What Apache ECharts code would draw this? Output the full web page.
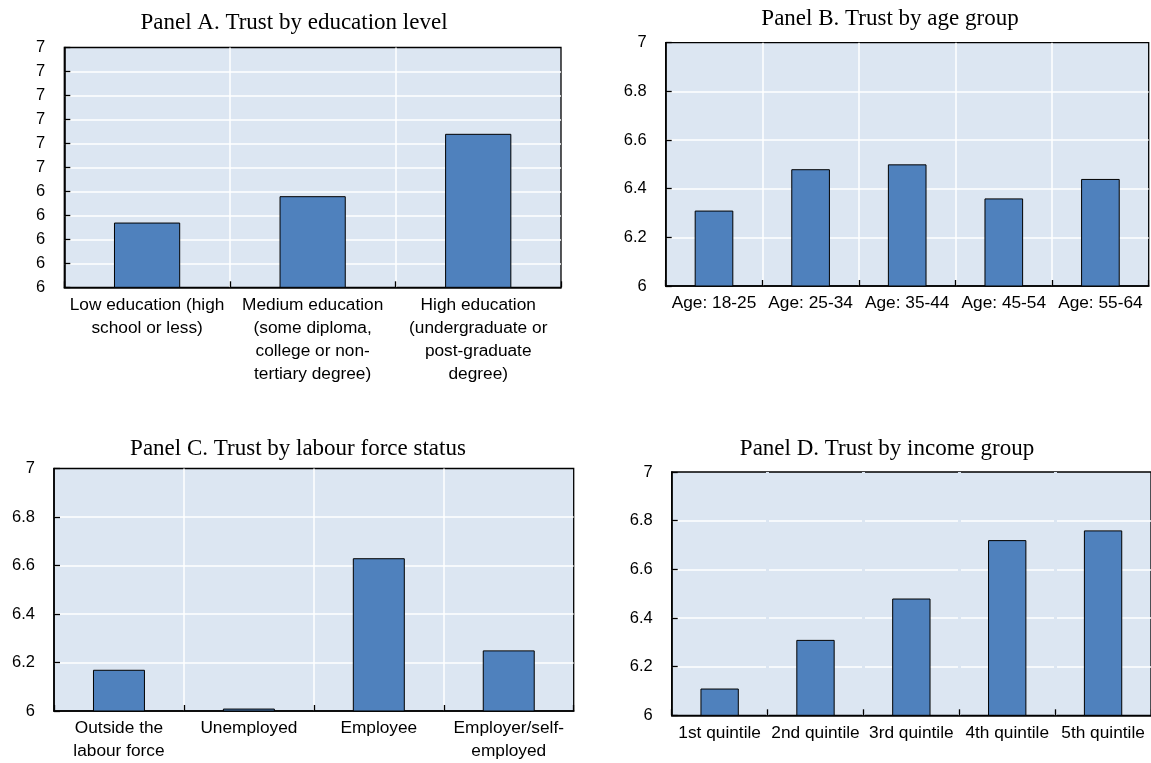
<!DOCTYPE html>
<html>
<head>
<meta charset="utf-8">
<script src="https://cdn.jsdelivr.net/npm/echarts@6/dist/echarts.min.js"></script>
<style>
  html, body { margin: 0; padding: 0; background: #fff; }
  #chart { width: 1151px; height: 763px; }
</style>
</head>
<body>
<div id="chart"></div>
<script>
// Panel titles
const titleA = 'Panel A. Trust by education level';
const titleB = 'Panel B. Trust by age group';
const titleC = 'Panel C. Trust by labour force status';
const titleD = 'Panel D. Trust by income group';

// Categories
const educationLevels = [
  'Low education (high\nschool or less)',
  'Medium education\n(some diploma,\ncollege or non-\ntertiary degree)',
  'High education\n(undergraduate or\npost-graduate\ndegree)'
];
const ageGroups = ['Age: 18-25', 'Age: 25-34', 'Age: 35-44', 'Age: 45-54', 'Age: 55-64'];
const labourStatus = ['Outside the\nlabour force', 'Unemployed', 'Employee', 'Employer/self-\nemployed'];
const incomeGroups = ['1st quintile', '2nd quintile', '3rd quintile', '4th quintile', '5th quintile'];

// Mean trust scores
const trustByEducation = [6.27, 6.38, 6.64];
const trustByAge = [6.31, 6.48, 6.50, 6.36, 6.44];
const trustByLabour = [6.17, 6.01, 6.63, 6.25];
const trustByIncome = [6.11, 6.31, 6.48, 6.72, 6.76];

// Value axis range and steps
const yMin = 6;
const yMax = 7;
const yStepA = 0.1;   // panel A labels are rounded to whole numbers
const yStepOther = 0.2;

const SANS = '"Liberation Sans", Arial, sans-serif';
const SERIF = '"Liberation Serif", "Times New Roman", serif';
const PLOT_BG = '#dce6f2';
const BAR = '#4f81bd';

const chart = echarts.init(document.getElementById('chart'), null, { renderer: 'canvas' });

// plot rectangles: left, top, right, bottom edges in px; title centre x and top
const panels = [
  { title: titleA, cats: educationLevels, vals: trustByEducation, box: [64.3, 47.5, 561, 287.3], step: yStepA, round: true, vgrid: true, tx: 294, ty: 11.5 },
  { title: titleB, cats: ageGroups, vals: trustByAge, box: [665.7, 42.7, 1148.7, 286], step: yStepOther, round: false, vgrid: true, tx: 890, ty: 7 },
  { title: titleC, cats: labourStatus, vals: trustByLabour, box: [54, 468.5, 573.7, 712.7], step: yStepOther, round: false, vgrid: true, tx: 298, ty: 437.5 },
  { title: titleD, cats: incomeGroups, vals: trustByIncome, box: [671.7, 472, 1152.5, 715.3], step: yStepOther, round: false, vgrid: false, tx: 887, ty: 437.5 }
];

const W = 1151, H = 763;

const xAxes = panels.map((p, i) => ({
  type: 'category',
  gridIndex: i,
  data: p.cats,
  boundaryGap: true,
  z: 3,
  axisLine: { show: true, lineStyle: { color: '#000', width: 1.6 } },
  axisTick: { show: true, inside: true, length: 6, interval: 0, lineStyle: { color: '#000', width: 1.3 } },
  axisLabel: { interval: 0, margin: 6, color: '#000', fontFamily: SANS, fontSize: 17.3, lineHeight: 23, align: 'center' },
  splitLine: { show: p.vgrid, interval: 0, showMinLine: false, showMaxLine: false, lineStyle: { color: '#ffffff', width: 1.5 } }
}));

// Panel D: horizontal gridlines are broken at the category boundaries
xAxes.push({
  type: 'category',
  gridIndex: 3,
  data: incomeGroups,
  boundaryGap: true,
  position: 'bottom',
  z: 1,
  axisLine: { show: false },
  axisTick: { show: false },
  axisLabel: { show: false },
  splitLine: { show: true, interval: 0, showMinLine: false, showMaxLine: false, lineStyle: { color: PLOT_BG, width: 3 } }
});

const option = {
  backgroundColor: '#ffffff',
  animation: false,
  title: panels.map(p => ({
    text: p.title,
    left: p.tx,
    top: p.ty,
    textAlign: 'center',
    padding: 0,
    textStyle: { fontFamily: SERIF, fontSize: 23, fontWeight: 'normal', color: '#000' }
  })),
  grid: panels.map(p => ({
    left: p.box[0],
    top: p.box[1],
    right: W - p.box[2],
    bottom: H - p.box[3],
    show: true,
    backgroundColor: PLOT_BG,
    borderColor: '#000',
    borderWidth: 1.3,
    containLabel: false
  })),
  xAxis: xAxes,
  yAxis: panels.map((p, i) => ({
    type: 'value',
    gridIndex: i,
    min: yMin,
    max: yMax,
    interval: p.step,
    axisLine: { show: true, lineStyle: { color: '#000', width: 1.6 } },
    axisTick: { show: true, inside: true, length: 6, lineStyle: { color: '#000', width: 1.3 } },
    axisLabel: {
      margin: 19,
      color: '#000',
      fontFamily: SANS,
      fontSize: 16.5,
      formatter: v => p.round ? String(Math.round(v)) : String(Math.round(v * 10) / 10)
    },
    splitLine: { show: true, showMinLine: false, showMaxLine: false, lineStyle: { color: '#ffffff', width: 1.5 } }
  })),
  series: panels.map((p, i) => ({
    type: 'bar',
    xAxisIndex: i,
    yAxisIndex: i,
    data: p.vals,
    barWidth: '40%',
    z: 4,
    itemStyle: { color: BAR, borderColor: '#000', borderWidth: 1 },
    emphasis: { disabled: true }
  }))
};

chart.setOption(option);
</script>
</body>
</html>
